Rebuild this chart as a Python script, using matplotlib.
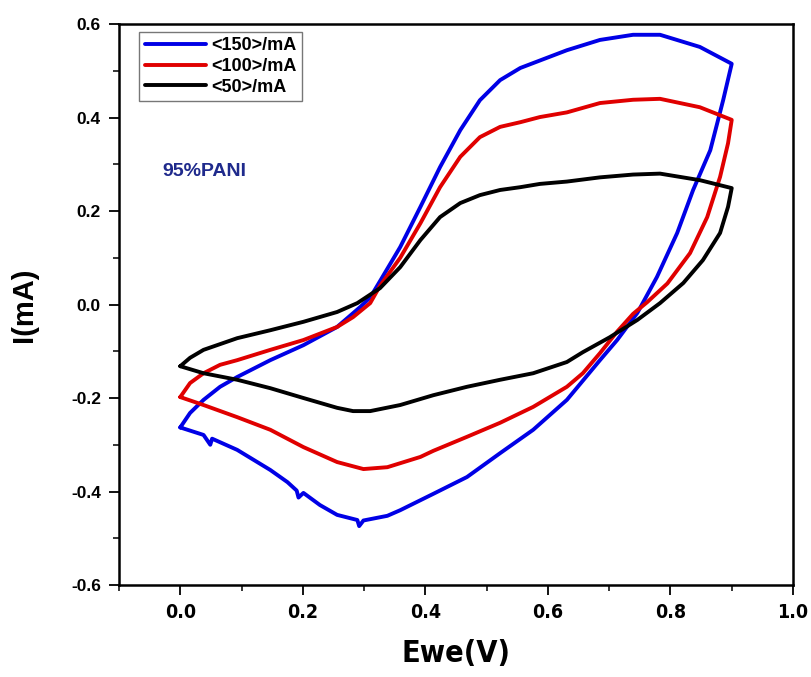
import matplotlib
matplotlib.use("Agg")
import matplotlib.pyplot as plt
from matplotlib.ticker import MultipleLocator, FormatStrFormatter

# ---- data ----
x150 = [0.000, 0.016, 0.038, 0.065, 0.093, 0.147, 0.201, 0.256, 0.294, 0.310, 0.326, 0.359,
        0.392, 0.424, 0.457, 0.489, 0.522, 0.555, 0.587, 0.631, 0.685, 0.739, 0.783, 0.848, 0.900,
        0.886, 0.865, 0.837, 0.811, 0.778, 0.746, 0.713, 0.685, 0.631, 0.576, 0.522,
        0.468, 0.413, 0.359, 0.338, 0.299, 0.292, 0.289, 0.256, 0.228, 0.201, 0.193,
        0.190, 0.175, 0.147, 0.093, 0.052, 0.049, 0.038, 0.000]
y150 = [-0.263, -0.232, -0.204, -0.176, -0.155, -0.119, -0.087, -0.048, -0.005, 0.015, 0.050, 0.123,
        0.209, 0.294, 0.373, 0.437, 0.480, 0.506, 0.522, 0.544, 0.566, 0.577, 0.577, 0.551, 0.515,
        0.437, 0.330, 0.245, 0.153, 0.059, -0.018, -0.076, -0.119, -0.204, -0.268, -0.318,
        -0.369, -0.405, -0.440, -0.452, -0.462, -0.474, -0.461, -0.450, -0.429, -0.403, -0.413,
        -0.398, -0.380, -0.354, -0.311, -0.287, -0.300, -0.279, -0.263]

x100 = [0.000, 0.016, 0.038, 0.065, 0.093, 0.147, 0.201, 0.256, 0.282, 0.310, 0.326, 0.359,
        0.392, 0.424, 0.457, 0.489, 0.522, 0.555, 0.587, 0.631, 0.685, 0.739, 0.783, 0.848, 0.900,
        0.894, 0.881, 0.860, 0.832, 0.795, 0.762, 0.739, 0.713, 0.685, 0.657, 0.631,
        0.576, 0.522, 0.468, 0.413, 0.392, 0.338, 0.299, 0.256, 0.201, 0.147, 0.093,
        0.038, 0.000]
y100 = [-0.198, -0.168, -0.147, -0.129, -0.119, -0.097, -0.076, -0.048, -0.027, 0.003, 0.040, 0.100,
        0.174, 0.251, 0.316, 0.358, 0.380, 0.390, 0.401, 0.411, 0.431, 0.438, 0.440, 0.422, 0.395,
        0.345, 0.273, 0.187, 0.110, 0.045, 0.005, -0.020, -0.058, -0.104, -0.147, -0.176,
        -0.219, -0.253, -0.283, -0.313, -0.326, -0.348, -0.352, -0.337, -0.305, -0.268, -0.241,
        -0.215, -0.198]

x50 = [0.000, 0.016, 0.038, 0.093, 0.147, 0.201, 0.256, 0.289, 0.326, 0.359,
       0.392, 0.424, 0.457, 0.489, 0.522, 0.555, 0.587, 0.631, 0.685, 0.739, 0.783, 0.848, 0.900,
       0.894, 0.881, 0.853, 0.821, 0.783, 0.746, 0.701, 0.657, 0.631, 0.576, 0.522,
       0.468, 0.413, 0.359, 0.310, 0.282, 0.256, 0.201, 0.147, 0.093, 0.038, 0.000]
y50 = [-0.132, -0.114, -0.097, -0.072, -0.055, -0.037, -0.016, 0.003, 0.035, 0.080,
       0.138, 0.187, 0.217, 0.234, 0.245, 0.251, 0.258, 0.263, 0.272, 0.278, 0.280, 0.266, 0.249,
       0.209, 0.153, 0.095, 0.046, 0.003, -0.033, -0.070, -0.102, -0.123, -0.147, -0.161,
       -0.176, -0.194, -0.215, -0.228, -0.228, -0.221, -0.200, -0.179, -0.161, -0.147, -0.132]

labels = ["<150>/mA", "<100>/mA", "<50>/mA"]
colors = ["#0000e6", "#e00000", "#000000"]
xticks = [0.0, 0.2, 0.4, 0.6, 0.8, 1.0]
yticks = [-0.6, -0.4, -0.2, 0.0, 0.2, 0.4, 0.6]

fig = plt.figure(figsize=(8.11, 6.77), dpi=100)
ax = fig.add_axes([0.1467, 0.1359, 0.8311, 0.8286])

for xs, ys, lab, c in zip([x150, x100, x50], [y150, y100, y50], labels, colors):
    ax.plot(xs, ys, color=c, lw=2.8, label=lab, solid_joinstyle="round", solid_capstyle="round")

ax.set_xlim(-0.1, 1.0)
ax.set_ylim(-0.6, 0.6)
ax.set_xticks(xticks)
ax.set_yticks(yticks)
ax.xaxis.set_minor_locator(MultipleLocator(0.1))
ax.yaxis.set_minor_locator(MultipleLocator(0.1))
ax.yaxis.set_major_formatter(FormatStrFormatter("%.1f"))
ax.xaxis.set_major_formatter(FormatStrFormatter("%.1f"))

ax.tick_params(which="major", direction="out", length=7, width=1.3, top=False, right=False, pad=6)
ax.tick_params(which="minor", direction="out", length=4, width=1.1, top=False, right=False)
for sp in ax.spines.values():
    sp.set_linewidth(1.8)

sans = ["Liberation Sans", "DejaVu Sans"]
for t in ax.get_xticklabels():
    t.set_fontfamily(["DejaVu Sans"])
    t.set_fontstretch("condensed")
    t.set_fontweight("bold")
    t.set_fontsize(14)
for t in ax.get_yticklabels():
    t.set_fontfamily(sans)
    t.set_fontweight("bold")
    t.set_fontsize(12.5)

ax.set_xlabel("Ewe(V)", fontsize=22, fontweight="bold", family=["DejaVu Sans"],
              fontstretch="condensed", labelpad=12)
ax.set_ylabel("I(mA)", fontsize=21, fontweight="bold", family=sans, labelpad=24)

leg = ax.legend(loc="upper left", bbox_to_anchor=(0.03, 0.986), borderaxespad=0.0, frameon=True,
                fancybox=False, edgecolor="#555555", handlelength=3.4, handletextpad=0.3,
                borderpad=0.3, labelspacing=0.2,
                prop={"family": sans, "weight": "bold", "size": 13})
leg.get_frame().set_linewidth(1.0)

ax.text(0.04, 0.285, "95%PANI", color="#1f2a8c", fontsize=14, fontweight="bold",
        family=sans, ha="center", va="center")

fig.savefig("out.png", dpi=100)
